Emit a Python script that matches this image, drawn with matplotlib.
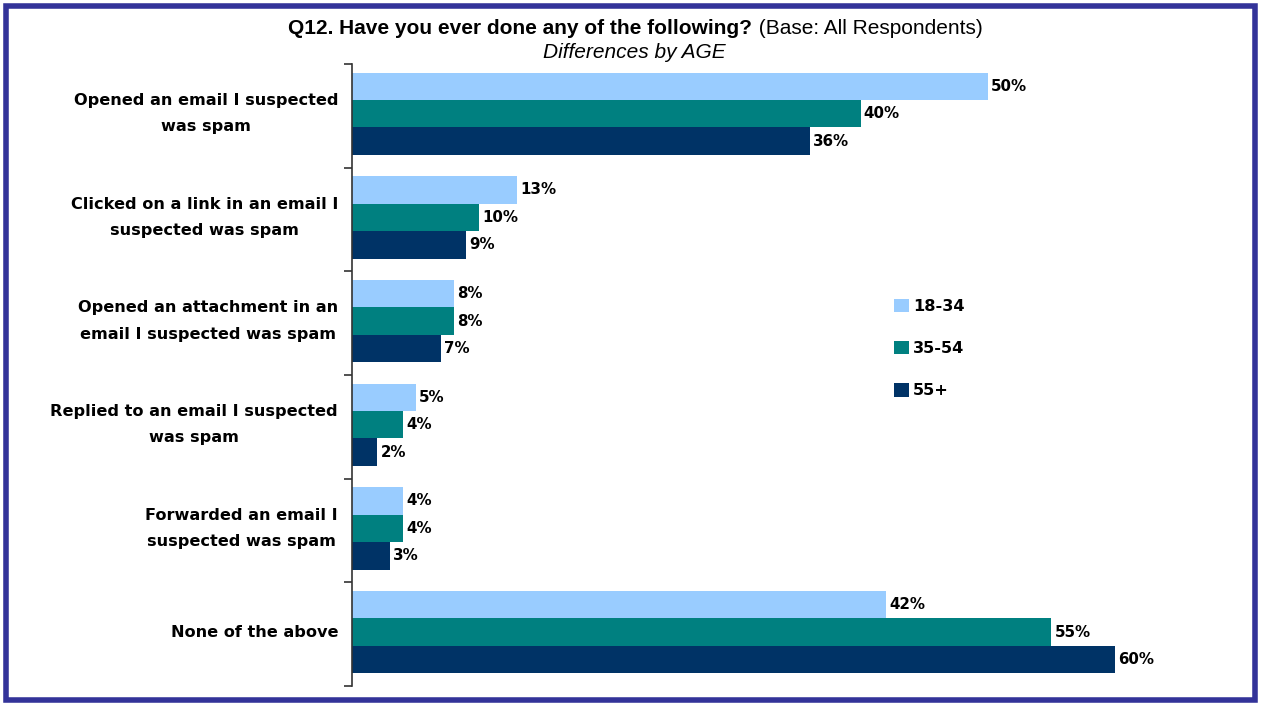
import matplotlib.pyplot as plt
from matplotlib.patches import Rectangle
import numpy as np

# Категории и значения по возрастным группам (%)
categories = [
    "Opened an email I suspected\nwas spam",
    "Clicked on a link in an email I\nsuspected was spam",
    "Opened an attachment in an\nemail I suspected was spam",
    "Replied to an email I suspected\nwas spam",
    "Forwarded an email I\nsuspected was spam",
    "None of the above",
]
age_groups = ["18-34", "35-54", "55+"]
vals_18_34 = [50, 13, 8, 5, 4, 42]
vals_35_54 = [40, 10, 8, 4, 4, 55]
vals_55 = [36, 9, 7, 2, 3, 60]

colors = ["#99CCFF", "#008080", "#003366"]

fig = plt.figure(figsize=(12.61, 7.05), dpi=100)
W, H = 1261, 705

# Рамка вокруг всего слайда
fig.patches.append(Rectangle((6 / W, 5 / H), 1249 / W, 694 / H,
                             transform=fig.transFigure, fill=False,
                             edgecolor="#333399", linewidth=4))

ax = fig.add_axes([352 / W, 1 - 686 / H, (1242 - 352) / W, (686 - 64) / H])

n = len(categories)
y = np.arange(n)
h = 0.265
series = [vals_18_34, vals_35_54, vals_55]
for k, (vals, c, lab) in enumerate(zip(series, colors, age_groups)):
    pos = y + (k - 1) * h - 0.02
    bars = ax.barh(pos, vals, height=h, color=c, label=lab, edgecolor="none")
    for b, v in zip(bars, vals):
        ax.text(b.get_width() + 0.25, b.get_y() + b.get_height() / 2, f"{v}%",
                va="center", ha="left", fontsize=10.8, fontweight="bold",
                family="DejaVu Sans")

ax.set_ylim(n - 0.5, -0.5)
ax.set_xlim(0, 70)

# Подписи категорий: блок прижат вправо, строки по центру
ax.set_yticks(y - 0.02)
ax.set_yticklabels(categories, fontsize=11.6, fontweight="bold",
                   family="DejaVu Sans", linespacing=1.95, ha="right",
                   va="center", multialignment="center")
ax.tick_params(axis="y", which="major", length=0, pad=10)
ax.set_yticks(np.arange(-0.5, n), minor=True)
ax.tick_params(axis="y", which="minor", length=6, width=1.2, color="#333333")
ax.set_xticks([])

for s in ["top", "right", "bottom"]:
    ax.spines[s].set_visible(False)
ax.spines["left"].set_color("#333333")
ax.spines["left"].set_linewidth(1.2)

# Заголовок: жирная часть, обычная и курсив
fig.text(752 / W, 1 - 28 / H, "Q12. Have you ever done any of the following?",
         ha="right", va="center", fontsize=15, fontweight="bold",
         family="Liberation Sans")
fig.text(753 / W, 1 - 28 / H, " (Base: All Respondents)",
         ha="left", va="center", fontsize=15, family="Liberation Sans")
fig.text(634 / W, 1 - 53 / H, "Differences by AGE", ha="center", va="center",
         fontsize=15, fontstyle="italic", family="Liberation Sans")

leg = ax.legend(loc="upper left", bbox_to_anchor=(879 / W, 1 - 284 / H),
                bbox_transform=fig.transFigure, frameon=False,
                handlelength=0.95, handleheight=0.95, handletextpad=0.25,
                labelspacing=1.65, prop={"size": 11.6, "weight": "bold",
                                         "family": "DejaVu Sans"})

fig.savefig("out.png", dpi=100)
